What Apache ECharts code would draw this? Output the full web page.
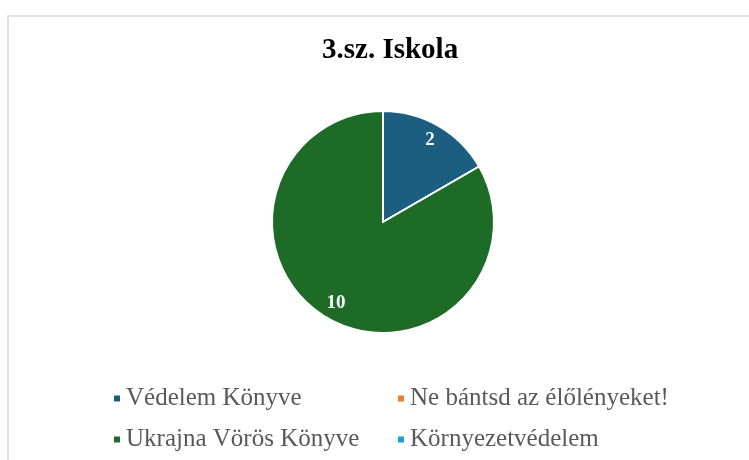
<!DOCTYPE html>
<html>
<head>
<meta charset="utf-8">
<script src="https://cdn.jsdelivr.net/npm/echarts@6/dist/echarts.min.js"></script>
<style>
  html, body { margin: 0; padding: 0; background: #fff; }
  #wrap { position: relative; width: 749px; height: 460px; }
  #frame { position: absolute; left: 7px; top: 15px; right: 0; bottom: 0;
           border-left: 2px solid #e1e1e1; border-top: 2px solid #e1e1e1; }
  #chart { position: absolute; left: 0; top: 0; width: 749px; height: 460px; }
</style>
</head>
<body>
<div id="wrap">
  <div id="frame"></div>
  <div id="chart"></div>
</div>
<script>
// 数据
const titleText = '3.sz. Iskola'
const categories = ['Védelem Könyve', 'Ne bántsd az élőlényeket!', 'Ukrajna Vörös Könyve', 'Környezetvédelem']
const values = [2, 0, 10, 0]
const colors = ['#1b5e80', '#ed7d31', '#1e6b28', '#1a9fd9']

const serif = "'Liberation Serif', 'Times New Roman', serif"
const pieData = categories.map((name, i) => ({ name: name, value: values[i] }))

const legendBase = {
    orient: 'vertical',
    top: 381,
    itemGap: 16,
    itemWidth: 8,
    itemHeight: 8,
    icon: 'rect',
    textStyle: { fontFamily: serif, fontSize: 25, color: '#595959' }
}

const myChart = echarts.init(document.getElementById('chart'))
const option = {
    color: colors,
    animation: false,
    title: {
        text: titleText,
        left: 317,
        top: 31,
        textStyle: {
            fontFamily: serif,
            fontWeight: 'bold',
            fontSize: 29,
            color: '#000'
        }
    },
    legend: [
        Object.assign({}, legendBase, { data: [categories[0], categories[2]], left: 107 }),
        Object.assign({}, legendBase, { data: [categories[1], categories[3]], left: 391 })
    ],
    series: [
        {
            name: 'main',
            type: 'pie',
            center: [383, 222],
            radius: 111,
            startAngle: 90,
            clockwise: true,
            stillShowZeroSum: true,
            itemStyle: { borderColor: '#fff', borderWidth: 2 },
            label: { show: false },
            labelLine: { show: false },
            emphasis: { disabled: true },
            data: pieData
        },
        {
            // 只显示数据标签
            name: 'labels',
            type: 'pie',
            center: [383, 222],
            radius: [71, 111],
            startAngle: 90,
            clockwise: true,
            silent: true,
            z: 3,
            itemStyle: { color: 'rgba(0,0,0,0)' },
            label: {
                show: true,
                position: 'inside',
                formatter: p => (p.value ? String(p.value) : ''),
                fontFamily: serif,
                fontWeight: 'bold',
                fontSize: 19,
                color: '#fff'
            },
            labelLine: { show: false },
            emphasis: { disabled: true },
            data: pieData
        }
    ]
}
myChart.setOption(option)
window.addEventListener('resize', () => {
    myChart.resize()
})
</script>
</body>
</html>
